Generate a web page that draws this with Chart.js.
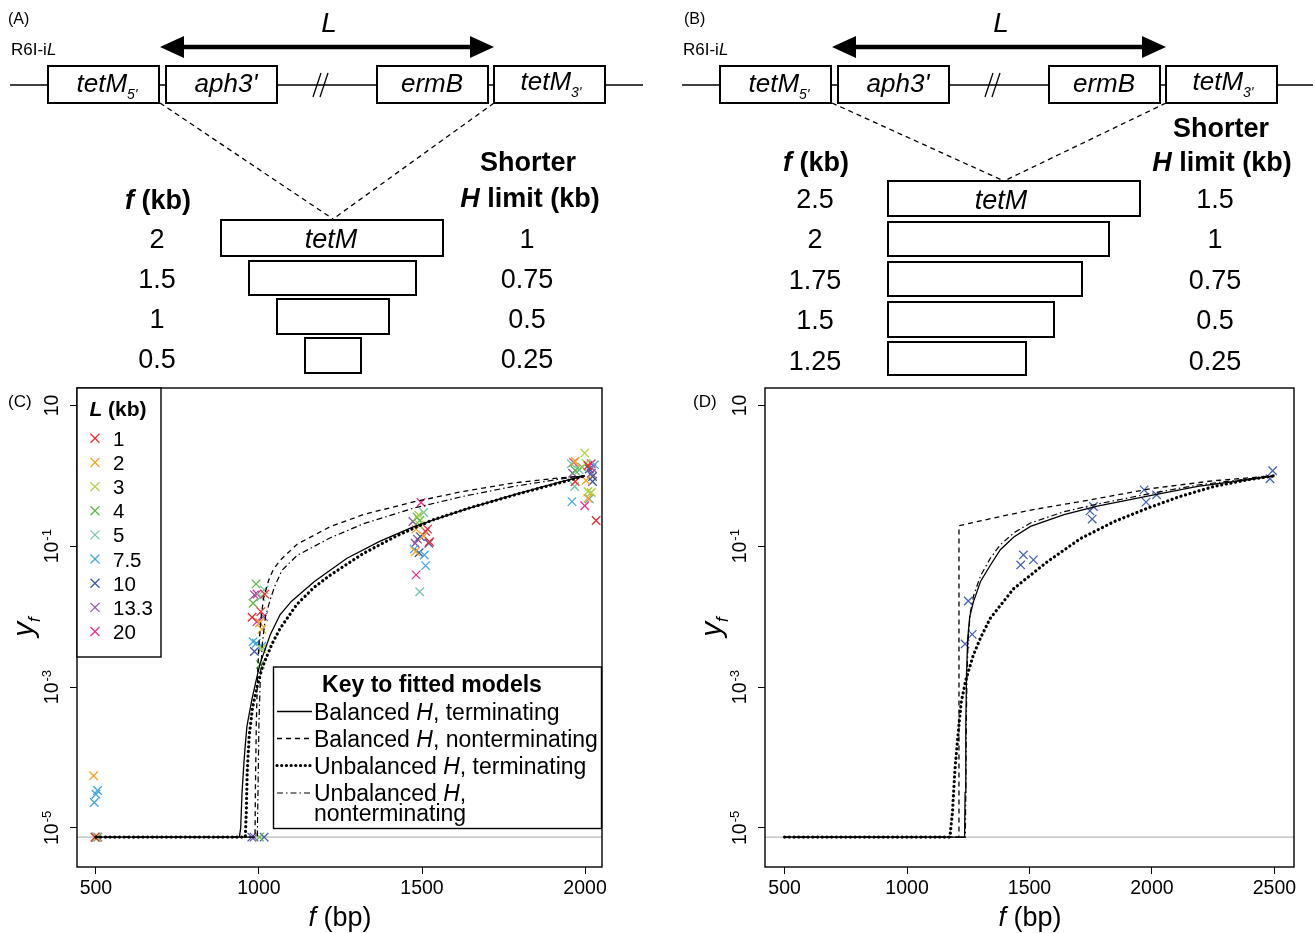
<!DOCTYPE html>
<html><head><meta charset="utf-8">
<script src="https://cdn.jsdelivr.net/npm/chart.js@4.4.1/dist/chart.umd.min.js"></script>
<style>
html,body{margin:0;padding:0;background:#fff;}
#wrap{position:relative;width:1315px;height:933px;overflow:hidden;font-family:'Liberation Sans',Arial,sans-serif;}
canvas{position:absolute;}
#ov{position:absolute;left:0;top:0;pointer-events:none;}
</style></head><body>
<div id="wrap">
<canvas id="chartC" width="620" height="553" style="left:0;top:380px;width:620px;height:553px"></canvas>
<canvas id="chartD" width="627" height="553" style="left:688px;top:380px;width:627px;height:553px"></canvas>
<svg id="ov" width="1315" height="933" xmlns="http://www.w3.org/2000/svg" font-family="Liberation Sans, Arial, sans-serif">
<!-- Panel A diagram -->
<g id="diagA">
<text x="8" y="24" font-size="16">(A)</text>
<text x="329" y="32" font-size="28" font-style="italic" text-anchor="middle">L</text>
<line x1="180" y1="47" x2="474" y2="47" stroke="#000" stroke-width="4.5"/>
<polygon points="160,47 184,36 184,58" fill="#000"/>
<polygon points="494,47 470,36 470,58" fill="#000"/>
<text x="11" y="55" font-size="17">R6I-i<tspan font-style="italic">L</tspan></text>
<line x1="10" y1="85" x2="643" y2="85" stroke="#000" stroke-width="1.5"/>
<line x1="313" y1="97" x2="321" y2="73" stroke="#000" stroke-width="1.3"/>
<line x1="320" y1="97" x2="328" y2="73" stroke="#000" stroke-width="1.3"/>
<rect x="48" y="66" width="111" height="37" fill="#fff" stroke="#000" stroke-width="2"/>
<rect x="166" y="66" width="111" height="37" fill="#fff" stroke="#000" stroke-width="2"/>
<rect x="377" y="66" width="111" height="37" fill="#fff" stroke="#000" stroke-width="2"/>
<rect x="494" y="66" width="111" height="37" fill="#fff" stroke="#000" stroke-width="2"/>
<text x="107" y="92" font-size="26" font-style="italic" text-anchor="middle">tetM<tspan font-size="14" dy="7">5'</tspan></text>
<text x="226" y="92" font-size="26" font-style="italic" text-anchor="middle">aph3'</text>
<text x="432" y="92" font-size="26" font-style="italic" text-anchor="middle">ermB</text>
<text x="551" y="90" font-size="26" font-style="italic" text-anchor="middle">tetM<tspan font-size="14" dy="7">3'</tspan></text>
<line x1="160" y1="103" x2="333" y2="219" stroke="#000" stroke-width="1.3" stroke-dasharray="5,4"/>
<line x1="494" y1="103" x2="333" y2="219" stroke="#000" stroke-width="1.3" stroke-dasharray="5,4"/>
<text x="158" y="209" font-size="27" font-weight="bold" text-anchor="middle"><tspan font-style="italic">f</tspan> (kb)</text>
<text x="528" y="171" font-size="27" font-weight="bold" text-anchor="middle">Shorter</text>
<text x="530" y="207" font-size="27" font-weight="bold" text-anchor="middle"><tspan font-style="italic">H</tspan> limit (kb)</text>
<rect x="221" y="220" width="222" height="36" fill="#fff" stroke="#000" stroke-width="2"/>
<rect x="249" y="261" width="167" height="34" fill="#fff" stroke="#000" stroke-width="2"/>
<rect x="277" y="299" width="112" height="35" fill="#fff" stroke="#000" stroke-width="2"/>
<rect x="305" y="338" width="56" height="35" fill="#fff" stroke="#000" stroke-width="2"/>
<text x="331" y="248" font-size="27" font-style="italic" text-anchor="middle">tetM</text>
</g>
<!-- Panel B diagram -->
<g id="diagB">
<text x="684" y="24" font-size="16">(B)</text>
<text x="1001" y="32" font-size="28" font-style="italic" text-anchor="middle">L</text>
<line x1="852" y1="47" x2="1146" y2="47" stroke="#000" stroke-width="4.5"/>
<polygon points="832,47 856,36 856,58" fill="#000"/>
<polygon points="1166,47 1142,36 1142,58" fill="#000"/>
<text x="683" y="55" font-size="17">R6I-i<tspan font-style="italic">L</tspan></text>
<line x1="682" y1="85" x2="1313" y2="85" stroke="#000" stroke-width="1.5"/>
<line x1="985" y1="97" x2="993" y2="73" stroke="#000" stroke-width="1.3"/>
<line x1="992" y1="97" x2="1000" y2="73" stroke="#000" stroke-width="1.3"/>
<rect x="720" y="66" width="111" height="37" fill="#fff" stroke="#000" stroke-width="2"/>
<rect x="838" y="66" width="111" height="37" fill="#fff" stroke="#000" stroke-width="2"/>
<rect x="1049" y="66" width="111" height="37" fill="#fff" stroke="#000" stroke-width="2"/>
<rect x="1166" y="66" width="111" height="37" fill="#fff" stroke="#000" stroke-width="2"/>
<text x="779" y="92" font-size="26" font-style="italic" text-anchor="middle">tetM<tspan font-size="14" dy="7">5'</tspan></text>
<text x="898" y="92" font-size="26" font-style="italic" text-anchor="middle">aph3'</text>
<text x="1104" y="92" font-size="26" font-style="italic" text-anchor="middle">ermB</text>
<text x="1223" y="90" font-size="26" font-style="italic" text-anchor="middle">tetM<tspan font-size="14" dy="7">3'</tspan></text>
<line x1="832" y1="103" x2="1004" y2="181" stroke="#000" stroke-width="1.3" stroke-dasharray="5,4"/>
<line x1="1166" y1="103" x2="1004" y2="181" stroke="#000" stroke-width="1.3" stroke-dasharray="5,4"/>
<text x="816" y="171" font-size="27" font-weight="bold" text-anchor="middle"><tspan font-style="italic">f</tspan> (kb)</text>
<text x="1221" y="137" font-size="27" font-weight="bold" text-anchor="middle">Shorter</text>
<text x="1222" y="171" font-size="27" font-weight="bold" text-anchor="middle"><tspan font-style="italic">H</tspan> limit (kb)</text>
<rect x="888" y="181" width="252" height="35" fill="#fff" stroke="#000" stroke-width="2"/>
<rect x="888" y="222" width="221" height="34" fill="#fff" stroke="#000" stroke-width="2"/>
<rect x="888" y="262" width="194" height="34" fill="#fff" stroke="#000" stroke-width="2"/>
<rect x="888" y="302" width="166" height="35" fill="#fff" stroke="#000" stroke-width="2"/>
<rect x="888" y="342" width="138" height="33" fill="#fff" stroke="#000" stroke-width="2"/>
<text x="1001" y="209" font-size="27" font-style="italic" text-anchor="middle">tetM</text>
</g>
<g id="dyn"></g>
<!-- axis titles and panel labels -->
<text x="8" y="407" font-size="17">(C)</text>
<text x="693" y="407" font-size="17">(D)</text>
<text transform="translate(33,627) rotate(-90)" font-size="30" text-anchor="middle"><tspan font-style="italic">y</tspan><tspan font-style="italic" font-size="17" dy="7">f</tspan></text>
<text transform="translate(721,627) rotate(-90)" font-size="30" text-anchor="middle"><tspan font-style="italic">y</tspan><tspan font-style="italic" font-size="17" dy="7">f</tspan></text>
<text x="340" y="926" font-size="27" text-anchor="middle"><tspan font-style="italic">f</tspan> (bp)</text>
<text x="1030" y="926" font-size="27" text-anchor="middle"><tspan font-style="italic">f</tspan> (bp)</text>
</svg>
</div>
<script>
// ---------------- DATA ----------------
const FLOOR = 7.4e-6;               // plotting position of zero values
const xTicksC = [500, 1000, 1500, 2000];
const xTicksD = [500, 1000, 1500, 2000, 2500];
const yTickVals = [10, 0.1, 0.001, 0.00001];
const yTickExp = ['', '-1', '-3', '-5'];

// diagram labels
const diagA_f = ['2', '1.5', '1', '0.5'];
const diagA_H = ['1', '0.75', '0.5', '0.25'];
const diagB_f = ['2.5', '2', '1.75', '1.5', '1.25'];
const diagB_H = ['1.5', '1', '0.75', '0.5', '0.25'];

// panel C observed values, one array per L (kb)
const lLabels = ['1', '2', '3', '4', '5', '7.5', '10', '13.3', '20'];
const lColors = ['#EE2A2E', '#F7A41C', '#AACF3A', '#5DBA47', '#6FCAA3', '#3FA9E0', '#3F56A7', '#8C53A4', '#EC2E8C'];
const cL1   = [[497,FLOOR],[979,0.0098],[1006,0.0118],[1018,0.0209],[1517,0.175],[1523,0.116],[1970,0.83],[2009,1.39],[2034,0.232]];
const cL2   = [[493,5.5e-5],[1002,0.0082],[1009,0.0066],[1482,0.175],[1505,0.14],[1480,0.084],[1970,1.6],[2003,0.86],[2009,0.48]];
const cL3   = [[502,FLOOR],[1009,0.0035],[1490,0.279],[1492,0.201],[1999,2.1],[2003,1.51],[2009,0.6],[2019,0.58]];
const cL4   = [[499,FLOOR],[991,0.0292],[982,0.0155],[1004,0.0021],[1002,FLOOR],[1485,0.259],[1493,0.232],[1991,1.33],[1970,1.19]];
const cL5   = [[504,FLOOR],[1016,0.024],[1006,0.0192],[1505,0.301],[1493,0.0226],[1958,1.48],[1982,1.22],[1968,0.705]];
const cL7_5 = [[505,3.4e-5],[500,3.0e-5],[495,2.3e-5],[982,0.0044],[992,0.0042],[1009,0.0038],[1476,0.091],[1507,0.075],[1511,0.053],[2029,1.44],[2013,0.47],[1960,0.43]];
const cL10  = [[501,FLOOR],[986,0.0032],[978,FLOOR],[1016,FLOOR],[1495,0.137],[1521,0.11],[1491,0.081],[2013,1.25],[2023,0.98],[2023,0.83]];
const cL13_3= [[506,FLOOR],[986,0.0204],[1014,0.01],[985,FLOOR],[1472,0.224],[1486,0.126],[1479,0.11],[2021,1.29],[1962,1.09],[2019,1.09]];
const cL20  = [[498,FLOOR],[994,0.021],[994,0.0085],[1497,0.418],[1511,0.162],[1482,0.0392],[1965,1.55],[2019,1.48],[1999,0.375]];

// panel C fitted models
const cBalTerm    = [[500,FLOOR],[940,FLOOR],[944,1.0e-5],[948,3.1e-5],[955,1.0e-4],[963,2.75e-4],[978,6.6e-4],[994,1.41e-3],[1004,2.19e-3],[1035,5.6e-3],[1065,0.0107],[1100,0.0166],[1170,0.0316],[1270,0.0676],[1370,0.1175],[1475,0.19],[1630,0.331],[1780,0.537],[1930,0.832],[2000,1.0]];
const cBalNonterm = [[500,FLOOR],[988,FLOOR],[989,3.2e-5],[992,3.2e-4],[996,1.6e-3],[1000,4.0e-3],[1007,0.01],[1014,0.0182],[1030,0.0331],[1044,0.0468],[1065,0.063],[1117,0.107],[1219,0.19],[1321,0.282],[1474,0.427],[1628,0.603],[1781,0.794],[1933,0.944],[2000,1.0]];
const cUnbTerm    = [[500,FLOOR],[958,FLOOR],[961,1.6e-5],[964,6.3e-5],[970,2.0e-4],[980,5.0e-4],[994,1.0e-3],[1010,1.9e-3],[1040,4.1e-3],[1065,6.8e-3],[1117,0.0151],[1170,0.0263],[1219,0.039],[1321,0.0794],[1423,0.141],[1530,0.234],[1650,0.355],[1800,0.562],[1930,0.813],[2000,1.0]];
const cUnbNonterm = [[500,FLOOR],[995,FLOOR],[997,3.2e-5],[1000,3.2e-4],[1004,1.26e-3],[1010,4.0e-3],[1020,0.01],[1035,0.0178],[1050,0.0282],[1071,0.0457],[1117,0.0741],[1219,0.132],[1321,0.209],[1474,0.347],[1628,0.513],[1781,0.708],[1933,0.912],[2000,1.0]];

// panel D observed values and fitted models
const dObs = [[1250,0.0167],[1266,0.0056],[1237,0.0041],[1475,0.0753],[1464,0.0543],[1516,0.064],[1761,0.366],[1747,0.318],[1756,0.243],[1968,0.632],[1976,0.423],[2019,0.537],[2493,1.18],[2482,0.908]];
const dBalTerm    = [[500,FLOOR],[1235,FLOOR],[1237,3.2e-5],[1240,3.2e-4],[1243,1.58e-3],[1248,5.0e-3],[1256,0.01],[1271,0.0162],[1300,0.0316],[1340,0.0537],[1381,0.0891],[1436,0.135],[1504,0.191],[1641,0.282],[1777,0.372],[1982,0.513],[2187,0.708],[2391,0.879],[2500,1.0]];
const dBalNonterm = [[500,FLOOR],[1212,FLOOR],[1212,0.195],[1300,0.229],[1500,0.324],[1750,0.457],[2000,0.661],[2250,0.851],[2500,1.0]];
const dUnbTerm    = [[500,FLOOR],[1175,FLOOR],[1185,1.6e-5],[1195,6.3e-5],[1210,2.5e-4],[1222,6.3e-4],[1240,1.26e-3],[1270,2.8e-3],[1300,5.0e-3],[1340,9.5e-3],[1436,0.0251],[1573,0.0603],[1709,0.129],[1846,0.224],[1982,0.347],[2118,0.513],[2254,0.708],[2391,0.879],[2500,1.0]];
const dUnbNonterm = [[500,FLOOR],[1238,FLOOR],[1240,3.2e-5],[1242,3.2e-4],[1245,1.58e-3],[1250,5.0e-3],[1258,0.0112],[1272,0.02],[1300,0.038],[1340,0.0676],[1381,0.105],[1436,0.155],[1504,0.214],[1641,0.309],[1777,0.398],[1982,0.55],[2187,0.741],[2391,0.902],[2500,1.0]];

const modelNames = [['Balanced ', 'H', ', terminating'], ['Balanced ', 'H', ', nonterminating'], ['Unbalanced ', 'H', ', terminating'], ['Unbalanced ', 'H', ',', 'nonterminating']];

// ---------------- STYLES ----------------
const FONT = '"Liberation Sans", Arial, sans-serif';
const modelStyles = [
  {borderWidth: 1.3, borderDash: []},
  {borderWidth: 1.3, borderDash: [5, 4]},
  {borderWidth: 3.2, borderDash: [0.1, 4.6], borderCapStyle: 'round'},
  {borderWidth: 1.2, borderDash: [6, 3, 1.5, 3]}
];
Chart.defaults.font.family = FONT;
Chart.defaults.color = '#000';

const toXY = arr => arr.map(([x, y]) => ({x, y}));

const framePlugin = {
  id: 'frame',
  afterDraw(chart) {
    const {ctx, chartArea: a, scales: {y}} = chart;
    ctx.save();
    ctx.strokeStyle = '#000';
    ctx.lineWidth = 1.4;
    ctx.strokeRect(a.left, a.top, a.right - a.left, a.bottom - a.top);
    ctx.fillStyle = '#000';
    yTickVals.forEach((v, i) => {
      const py = y.getPixelForValue(v);
      ctx.save();
      ctx.translate(a.left - 19.5, py);
      ctx.rotate(-Math.PI / 2);
      ctx.font = '19.5px ' + FONT;
      const w1 = ctx.measureText('10').width;
      ctx.font = '13px ' + FONT;
      const w2 = yTickExp[i] ? ctx.measureText(yTickExp[i]).width + 1 : 0;
      const x0 = -(w1 + w2) / 2;
      ctx.textAlign = 'left';
      ctx.textBaseline = 'alphabetic';
      ctx.font = '19.5px ' + FONT;
      ctx.fillText('10', x0, 0);
      if (yTickExp[i]) {
        ctx.font = '13px ' + FONT;
        ctx.fillText(yTickExp[i], x0 + w1 + 1, -7);
      }
      ctx.restore();
    });
    ctx.restore();
  }
};

function makeScales(xmin, xmax, xt) {
  const grid = {drawOnChartArea: false, drawTicks: true, tickLength: 7, color: '#000', lineWidth: 1};
  return {
    x: {
      type: 'linear', min: xmin, max: xmax,
      afterBuildTicks: s => { s.ticks = xt.map(v => ({value: v})); },
      afterFit: s => { s.height = 66; s.paddingLeft = 0; s.paddingRight = 0; },
      ticks: {font: {size: 19.5}, color: '#000', padding: 3, maxRotation: 0, autoSkip: false,
              callback: v => String(v)},
      grid, border: {display: false}
    },
    y: {
      type: 'logarithmic', min: 2.786e-6, max: 17.66,
      afterBuildTicks: s => { s.ticks = yTickVals.map(v => ({value: v})); },
      afterFit: s => { s.width = 77; },
      ticks: {display: false},
      grid, border: {display: false}
    }
  };
}

function modelDatasets(curves) {
  return curves.map((c, i) => Object.assign({
    type: 'scatter', data: toXY(c), showLine: true, pointRadius: 0,
    borderColor: '#000', backgroundColor: '#000', fill: false, tension: 0, order: 1
  }, modelStyles[i]));
}
function floorDataset(xmin, xmax) {
  return {type: 'scatter', data: [{x: xmin, y: FLOOR}, {x: xmax, y: FLOOR}], showLine: true,
    pointRadius: 0, borderColor: '#b8b8b8', borderWidth: 1.2, order: 5};
}
const pointStyle = {pointStyle: 'crossRot', pointRadius: 6, pointBorderWidth: 1.3, showLine: false, order: 2};

const seriesC = [cL1, cL2, cL3, cL4, cL5, cL7_5, cL10, cL13_3, cL20];
const C_XMIN = 442, C_XMAX = 2052, D_XMIN = 420, D_XMAX = 2580;

new Chart(document.getElementById('chartC'), {
  type: 'scatter',
  data: {datasets: [
    ...modelDatasets([cBalTerm, cBalNonterm, cUnbTerm, cUnbNonterm]),
    ...seriesC.map((s, i) => Object.assign({label: lLabels[i], data: toXY(s), borderColor: lColors[i], backgroundColor: lColors[i]}, pointStyle)),
    floorDataset(C_XMIN, C_XMAX)
  ]},
  options: {
    responsive: false, animation: false, devicePixelRatio: 1,
    layout: {padding: {top: 8, right: 18, bottom: 0, left: 0}},
    plugins: {legend: {display: false}, tooltip: {enabled: false}},
    scales: makeScales(C_XMIN, C_XMAX, xTicksC)
  },
  plugins: [framePlugin]
});

new Chart(document.getElementById('chartD'), {
  type: 'scatter',
  data: {datasets: [
    ...modelDatasets([dBalTerm, dBalNonterm, dUnbTerm, dUnbNonterm]),
    Object.assign({label: 'obs', data: toXY(dObs), borderColor: '#4561B3', backgroundColor: '#4561B3'}, pointStyle),
    floorDataset(D_XMIN, D_XMAX)
  ]},
  options: {
    responsive: false, animation: false, devicePixelRatio: 1,
    layout: {padding: {top: 8, right: 21, bottom: 0, left: 0}},
    plugins: {legend: {display: false}, tooltip: {enabled: false}},
    scales: makeScales(D_XMIN, D_XMAX, xTicksD)
  },
  plugins: [framePlugin]
});

// ---------------- SVG legends & diagram numbers ----------------
const NS = 'http://www.w3.org/2000/svg';
const dyn = document.getElementById('dyn');
function el(tag, attrs, text) {
  const e = document.createElementNS(NS, tag);
  for (const k in attrs) e.setAttribute(k, attrs[k]);
  if (text !== undefined) e.textContent = text;
  dyn.appendChild(e);
  return e;
}
function tsp(parent, text, attrs) {
  const t = document.createElementNS(NS, 'tspan');
  for (const k in (attrs || {})) t.setAttribute(k, attrs[k]);
  t.textContent = text;
  parent.appendChild(t);
  return t;
}
// diagram numbers
const rowA = [248, 288, 328, 368];
diagA_f.forEach((v, i) => el('text', {x: 157, y: rowA[i], 'font-size': 27, 'text-anchor': 'middle'}, v));
diagA_H.forEach((v, i) => el('text', {x: 527, y: rowA[i], 'font-size': 27, 'text-anchor': 'middle'}, v));
const rowB = [208, 248, 289, 329, 370];
diagB_f.forEach((v, i) => el('text', {x: 815, y: rowB[i], 'font-size': 27, 'text-anchor': 'middle'}, v));
diagB_H.forEach((v, i) => el('text', {x: 1215, y: rowB[i], 'font-size': 27, 'text-anchor': 'middle'}, v));

// L legend
el('rect', {x: 77, y: 388, width: 84, height: 269, fill: '#fff', stroke: '#000', 'stroke-width': 1.4});
const lt = el('text', {x: 118, y: 416, 'font-size': 21, 'font-weight': 'bold', 'text-anchor': 'middle'});
tsp(lt, 'L', {'font-style': 'italic'}); tsp(lt, ' (kb)');
lLabels.forEach((lab, i) => {
  const cy = 438.3 + 24.15 * i, cx = 95;
  el('line', {x1: cx - 4.5, y1: cy - 4.5, x2: cx + 4.5, y2: cy + 4.5, stroke: lColors[i], 'stroke-width': 1.3});
  el('line', {x1: cx - 4.5, y1: cy + 4.5, x2: cx + 4.5, y2: cy - 4.5, stroke: lColors[i], 'stroke-width': 1.3});
  el('text', {x: 113, y: cy + 7.5, 'font-size': 20.5}, lab);
});

// model key
el('rect', {x: 273.5, y: 667, width: 328, height: 161.5, fill: '#fff', stroke: '#000', 'stroke-width': 1.4});
el('text', {x: 432, y: 692, 'font-size': 23, 'font-weight': 'bold', 'text-anchor': 'middle'}, 'Key to fitted models');
const keyY = [711.5, 738.5, 765.5, 793];
const svgDash = ['', '5,4', '0.1,4.6', '6,3,1.5,3'];
modelNames.forEach((parts, i) => {
  const y = keyY[i];
  const ln = el('line', {x1: 277, y1: y, x2: 312, y2: y, stroke: '#000', 'stroke-width': modelStyles[i].borderWidth});
  if (svgDash[i]) ln.setAttribute('stroke-dasharray', svgDash[i]);
  if (i === 2) ln.setAttribute('stroke-linecap', 'round');
  const t = el('text', {x: 314, y: y + 8, 'font-size': 23});
  tsp(t, parts[0]); tsp(t, parts[1], {'font-style': 'italic'}); tsp(t, parts[2]);
  if (parts[3]) el('text', {x: 314, y: y + 28, 'font-size': 23}, parts[3]);
});
</script>
</body></html>
